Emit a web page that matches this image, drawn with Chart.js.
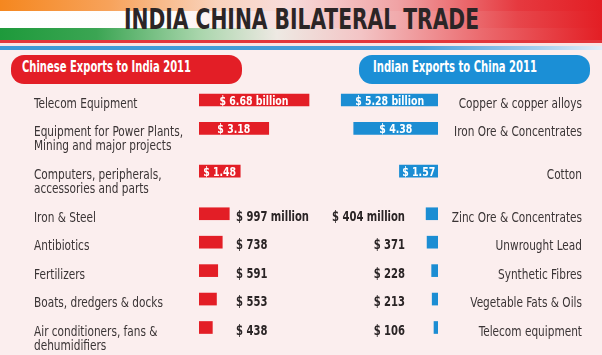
<!DOCTYPE html>
<html>
<head>
<meta charset="utf-8">
<script src="https://cdn.jsdelivr.net/npm/chart.js@4.4.0/dist/chart.umd.min.js"></script>
<style>
html,body{margin:0;padding:0;}
body{width:602px;height:355px;overflow:hidden;background:#fbeeee;position:relative;}
.st{position:absolute;left:0;width:602px;}
#s1{top:0;height:11px;background:linear-gradient(to right,#f5871f 0%,#f7a25a 18%,#f9d3bd 36%,#f7dcdb 48%,#f0a3a5 66%,#e6393f 86%,#e31e24 100%);}
#s2{top:11px;height:17px;background:linear-gradient(to right,#ffffff 0%,#fefcfb 28%,#f8e0df 46%,#f1abad 66%,#e7464b 86%,#e31e24 100%);}
#s3{top:28px;height:12px;background:linear-gradient(to right,#1e9a3b 0%,#3ba553 16%,#a8d5ab 33%,#eee9e3 46%,#f3c4c5 60%,#eb6a6e 80%,#e31e24 100%);}
#redline{position:absolute;left:0;top:40px;width:602px;height:3px;background:#e2363b;}
#gap{position:absolute;left:0;top:43px;width:602px;height:3px;background:#fbe3e3;}
#blueline{position:absolute;left:0;top:46px;width:602px;height:4px;background:linear-gradient(to right,#3d99d6 0%,#4a9fd9 70%,#a9d0ee 90%,#e4eff8 100%);}
.txt{position:absolute;white-space:nowrap;transform-origin:0 0;line-height:1;}
#title{left:124px;top:5px;font-size:29px;font-weight:bold;color:#2b2526;}
.pill{position:absolute;top:55px;height:29px;border-radius:13px;}
#pillL{left:11px;width:231px;background:#e31e26;}
#pillR{left:359px;width:231px;background:#1b8fd6;}
.ptxt{top:60px;font-size:15.5px;font-weight:bold;color:#ffffff;}
#ptL{left:22px;}
#ptR{left:373px;}
canvas{position:absolute;top:85px;}
#cL{left:0;}
#cR{left:320px;}
</style>
</head>
<body>
<div class="st" id="s1"></div><div class="st" id="s2"></div><div class="st" id="s3"></div>
<div id="redline"></div><div id="gap"></div><div id="blueline"></div>
<div class="txt" id="title">INDIA CHINA BILATERAL TRADE</div>
<div class="pill" id="pillL"></div>
<div class="pill" id="pillR"></div>
<div class="txt ptxt" id="ptL">Chinese Exports to India 2011</div>
<div class="txt ptxt" id="ptR">Indian Exports to China 2011</div>
<canvas id="cL" width="320" height="270"></canvas>
<canvas id="cR" width="282" height="270"></canvas>
<script>
// ---------------- DATA (values in US$ million, 2011) ----------------
const chineseProducts = [
  "Telecom Equipment",
  "Equipment for Power Plants,\nMining and major projects",
  "Computers, peripherals,\naccessories and parts",
  "Iron & Steel",
  "Antibiotics",
  "Fertilizers",
  "Boats, dredgers & docks",
  "Air conditioners, fans &\ndehumidifiers"
];
const chineseValues = [6680, 3180, 1480, 997, 738, 591, 553, 438];
const chineseValueLabels = ["$ 6.68 billion", "$ 3.18", "$ 1.48", "$ 997 million", "$ 738", "$ 591", "$ 553", "$ 438"];

const indianProducts = [
  "Copper & copper alloys",
  "Iron Ore & Concentrates",
  "Cotton",
  "Zinc Ore & Concentrates",
  "Unwrought Lead",
  "Synthetic Fibres",
  "Vegetable Fats & Oils",
  "Telecom equipment"
];
const indianValues = [5280, 4380, 1570, 404, 371, 228, 213, 106];
const indianValueLabels = ["$ 5.28 billion", "$ 4.38", "$ 1.57", "$ 404 million", "$ 371", "$ 228", "$ 213", "$ 106"];

// ---------------- fonts ----------------
function fontAvailable(name){
  const c = document.createElement('canvas').getContext('2d');
  const s = 'abcdefghijklmnopqrstuvwxyz ABCDEFGHIJKLM 0123456789';
  for (const fb of ['monospace','serif']) {
    c.font = '20px ' + fb; const w0 = c.measureText(s).width;
    c.font = '20px "' + name + '", ' + fb; const w1 = c.measureText(s).width;
    if (Math.abs(w0 - w1) > 0.5) return true;
  }
  return false;
}
const candidates = ['Liberation Sans Narrow','DejaVu Sans Condensed','Roboto Condensed','Arial Narrow','Roboto','Liberation Sans'];
let FAM = 'sans-serif';
for (const f of candidates) { if (fontAvailable(f)) { FAM = '"' + f + '", sans-serif'; break; } }
Chart.defaults.font.family = FAM;

const mctx = document.createElement('canvas').getContext('2d');
function fitScale(text, font, target){ mctx.font = font; return target / mctx.measureText(text).width; }

const catFont = '13.5px ' + FAM;
const outFont = 'bold 14.5px ' + FAM;
const inFont = 'bold 13px ' + FAM;
const sxCat = fitScale('Equipment for Power Plants,', catFont, 149);
const sxOut = fitScale('$ 404 million', outFont, 73);
const sxIn = fitScale('$ 6.68 billion', inFont, 69);

// HTML texts
function fitEl(id, target){
  const el = document.getElementById(id);
  el.style.fontFamily = FAM;
  const w = el.getBoundingClientRect().width;
  el.style.transform = 'scaleX(' + (target / w) + ')';
}
fitEl('title', 355);
fitEl('ptL', 169);
fitEl('ptR', 164);

// ---------------- custom power scale ----------------
class PowScale extends Chart.LinearScale {
  getPixelForValue(value){
    const p = this.options.power;
    const lo = Math.pow(this.min, p), hi = Math.pow(this.max, p);
    const v = Math.pow(Math.max(value, this.min), p);
    return this.getPixelForDecimal((v - lo) / (hi - lo));
  }
  getValueForPixel(pixel){
    const p = this.options.power;
    const lo = Math.pow(this.min, p), hi = Math.pow(this.max, p);
    return Math.pow(lo + this.getDecimalForPixel(pixel) * (hi - lo), 1 / p);
  }
}
PowScale.id = 'pow';
PowScale.defaults = Chart.LinearScale.defaults;
Chart.register(PowScale);

// row slots: two units per row, one more after a two-line label
const slots = [];
{
  let s = 0;
  for (let i = 0; i < chineseProducts.length; i++) {
    slots.push(s);
    const lines = Math.max(chineseProducts[i].split('\n').length, indianProducts[i].split('\n').length);
    s += 2 + (lines > 1 ? 1 : 0);
  }
}

function drawText(ctx, text, x, y, font, color, align, sx){
  ctx.save();
  ctx.font = font; ctx.fillStyle = color; ctx.textBaseline = 'alphabetic'; ctx.textAlign = align;
  ctx.translate(x, y); ctx.scale(sx, 1);
  ctx.fillText(text, 0, 0);
  ctx.restore();
}

function labelPlugin(products, values, valueLabels, catX, catAlign, outX, outAlign){
  return {
    id: 'rowLabels',
    afterDatasetsDraw(chart){
      const ctx = chart.ctx, ys = chart.scales.y;
      const meta = chart.getDatasetMeta(0);
      slots.forEach((slot, i) => {
        const cy = ys.getPixelForValue(slot);
        products[i].split('\n').forEach((ln, j) => {
          drawText(ctx, ln, catX, cy + 8 + j * 14, catFont, '#3a3435', catAlign, sxCat);
        });
        const bar = meta.data[i];
        if (values[i] >= 1000) {
          drawText(ctx, valueLabels[i], (bar.x + bar.base) / 2, cy + 5, inFont, '#ffffff', 'center', sxIn);
        } else {
          drawText(ctx, valueLabels[i], outX, cy + 7, outFont, '#2a2425', outAlign, sxOut);
        }
      });
    }
  };
}

const yScale = { type: 'linear', reverse: true, offset: false, bounds: 'data', min: -1.055, max: 17.934, display: false, grid: { offset: false } };

function makeChart(id, values, color, xOpts, padding, plugin){
  return new Chart(document.getElementById(id), {
    type: 'bar',
    data: {
      datasets: [{
        data: values.map((v, i) => ({ x: v, y: slots[i] })),
        backgroundColor: color,
        borderWidth: 0,
        barThickness: 12,
        minBarLength: 4
      }]
    },
    options: {
      indexAxis: 'y',
      responsive: false,
      animation: false,
      devicePixelRatio: 1,
      layout: { padding: padding },
      plugins: { legend: { display: false }, tooltip: { enabled: false }, title: { display: false } },
      scales: { x: xOpts, y: yScale }
    },
    plugins: [plugin]
  });
}

makeChart('cL', chineseValues, '#e31e26',
  { type: 'pow', power: 0.5, min: 157, max: 6782, offset: false, display: false },
  { left: 199, right: 10, top: 0, bottom: 0 },
  labelPlugin(chineseProducts, chineseValues, chineseValueLabels, 34, 'left', 236, 'left'));

makeChart('cR', indianValues, '#1b8dd3',
  { type: 'pow', power: 0.7, min: 70, max: 6290, reverse: true, offset: false, display: false },
  { left: 8, right: 164, top: 0, bottom: 0 },
  labelPlugin(indianProducts, indianValues, indianValueLabels, 262, 'right', 85, 'right'));
</script>
</body>
</html>
